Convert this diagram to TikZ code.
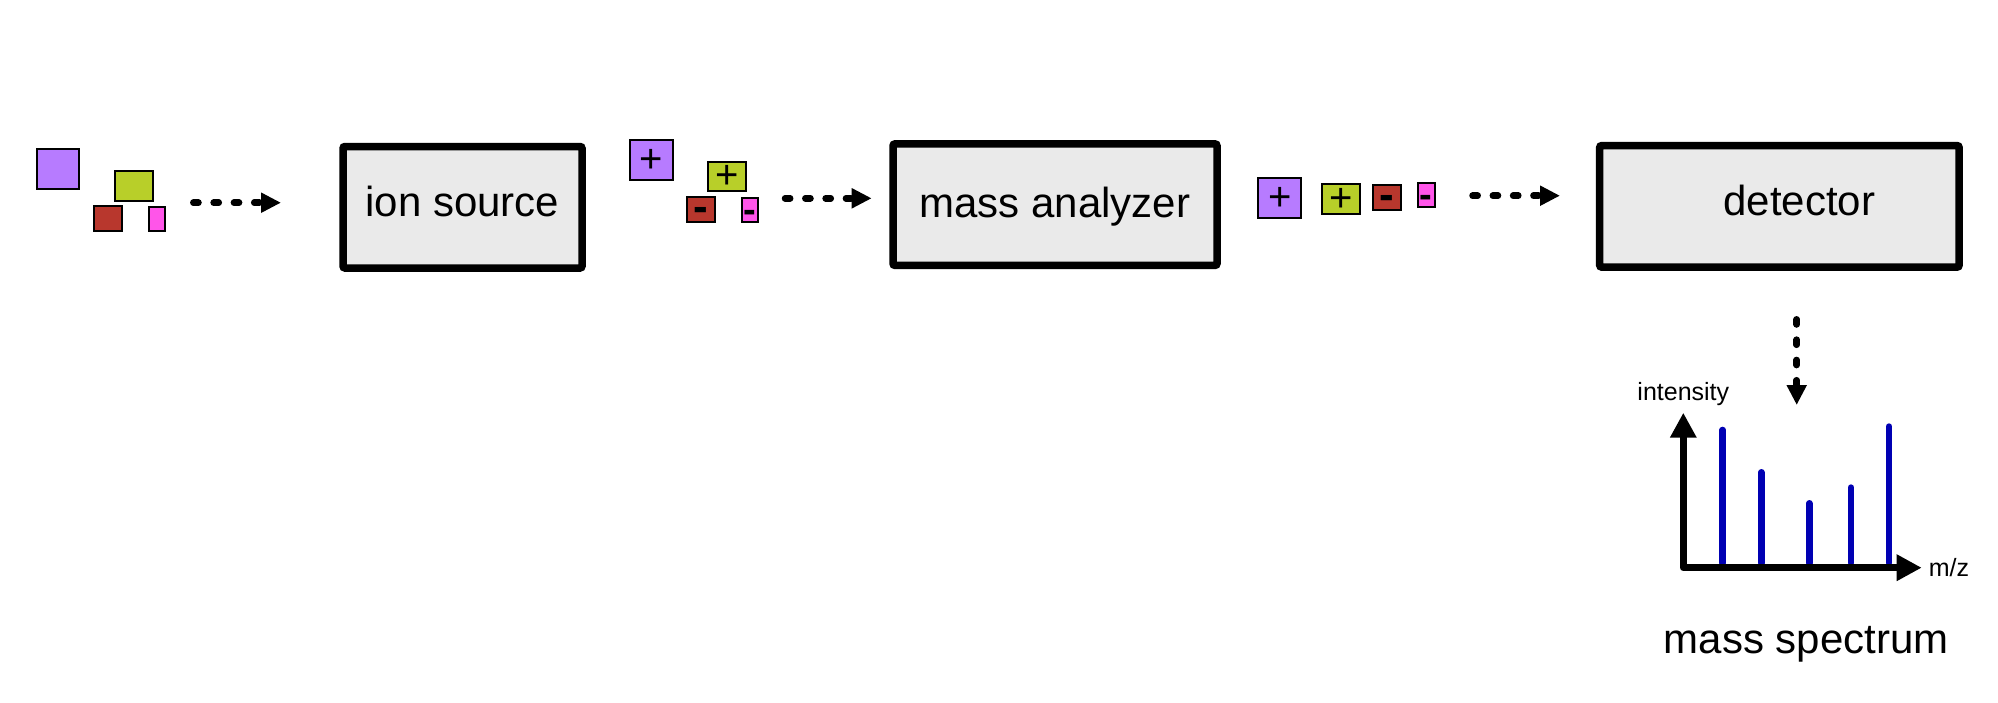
\documentclass[tikz,border=0pt]{standalone}
\usepackage{fontspec}
\setmainfont{Liberation Sans}
\usetikzlibrary{arrows.meta, positioning, shapes}
\definecolor{ion_purple}{RGB}{183, 123, 255}
\definecolor{ion_green}{RGB}{184, 207, 41}
\definecolor{ion_red}{RGB}{184, 55, 45}
\definecolor{ion_pink}{RGB}{255, 85, 233}
\definecolor{box_gray}{RGB}{234, 234, 234}
\definecolor{peak_blue}{RGB}{0, 0, 179}
\tikzset {
  big/.style = {font=\fontsize{21}{25}\selectfont},
  small/.style = {font=\fontsize{12.5}{15}\selectfont},
  stage/.style = {draw, big, line width=3.75pt, fill=box_gray, rounded corners=1pt, rectangle, minimum height=60.75pt, text height=15pt, text depth=6pt},
  ion/.style = {draw, line width=1pt, rectangle, inner sep=0pt, text height=12pt, text depth=0pt, font=\fontsize{20}{24}\selectfont},
  minus/.style = {font=\fontsize{#1}{24}\bfseries},
  bigion/.style = {ion, fill=ion_purple, minimum width=21.3pt, minimum height=19.85pt},
  midion/.style = {ion, fill=ion_green, minimum width=19pt, minimum height=14.85pt},
  smallion/.style = {ion, fill=ion_red, minimum width=14pt, minimum height=12.5pt},
  tinyion/.style = {ion, fill=ion_pink, minimum width=8.3pt, minimum height=9.85pt},
  flow/.style = {-{Triangle[length=10pt, width=9.5pt]}, line width=3.25pt, line cap=round, dash pattern=on 2.6pt off 7.55pt},
  axis/.style = {{Triangle[length=12.5pt, width=12.5pt]}-{Triangle[length=12.5pt, width=12.5pt]}, line width=3.65pt, line join=round},
  peak/.style = {draw=peak_blue, line width=3.3pt, line cap=round}
}

\begin{document}
\begin{tikzpicture}[x=0.5pt, y=-0.5pt]
    \useasboundingbox (0,0) rectangle (1998,702);

    % neutral molecules
    \node[bigion] (purp1) at (58,169.2) {};
    \node[midion] (lime1) at (134.3,185.8) {};
    \node[smallion] (red1) at (108,218.3) {};
    \node[tinyion] (pink1) at (157,219.2) {};

    % ions
    \node[bigion] (purp2) at (651.2,160) {+};
    \node[midion] (lime2) at (727.3,176.5) {+};
    \node[smallion, minus=22] (red2) at (701,209.2) {-};
    \node[tinyion, minus=19] (pink2) at (750,210) {-};

    % sorted ions
    \node[bigion] (purp3) at (1279.7,198.2) {+};
    \node[midion] (lime3) at (1340.7,199.3) {+};
    \node[smallion, minus=22] (red3) at (1386.8,197.7) {-};
    \node[tinyion, minus=19] (pink3) at (1426.2,195.3) {-};

    \node[stage, minimum width=119.5pt] (source) at (462.5,207.25) {ion source};
    \node[stage, minimum width=162pt, text depth=2.4pt] (analyzer) at (1055,204.65) {mass analyzer};
    \node[stage, minimum width=179.7pt] (detector) at (1779.4,206.35) {\hspace*{20pt}detector};

    \coordinate (flow1a) at (193.3,202.7);
    \coordinate (flow1b) at (281,202.7);
    \coordinate (flow2a) at (785,198.3);
    \coordinate (flow2b) at (871.7,198.3);
    \coordinate (flow3a) at (1472.5,195.7);
    \coordinate (flow3b) at (1560,195.7);
    \coordinate (flow4a) at (1796.7,319.3);
    \coordinate (flow4b) at (1796.7,405);
    \draw[flow] (flow1a) -- (flow1b);
    \draw[flow] (flow2a) -- (flow2b);
    \draw[flow] (flow3a) -- (flow3b);
    \draw[flow] (flow4a) -- (flow4b);

    % spectrum
    \coordinate (origin) at (1683.3,567.7);
    \coordinate (ytip) at (1683.3,412.7);
    \coordinate (xtip) at (1921.7,567.7);
    \foreach \x/\top in {1722.7/430, 1761.3/472.3, 1809.3/503.3, 1851/487.6, 1889/426.6}
        \draw[peak] (\x,563) -- (\x,\top);
    \draw[axis] (ytip) -- (origin) -- (xtip);
    \node[small, above=0pt of ytip] (ylabel) {intensity};
    \node[small, right=0pt of xtip] (xlabel) {m/z};
    \node[big, anchor=base] (spectrum) at (1806.3,653.3) {mass spectrum};

  \end{tikzpicture}
\end{document}
